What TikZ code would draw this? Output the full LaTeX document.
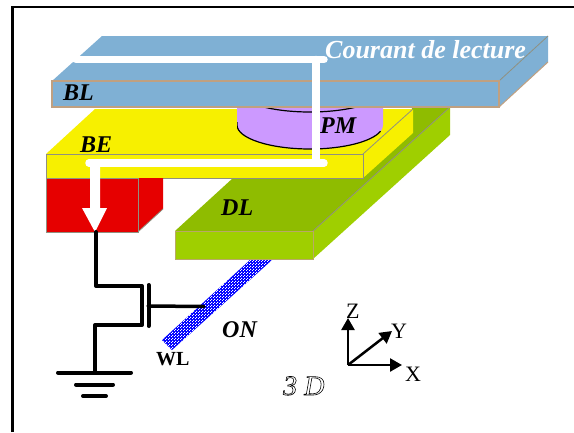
\documentclass[tikz,border=0pt]{standalone}
\usepackage{fontspec}
\setmainfont{Liberation Serif}
\usetikzlibrary{arrows.meta,patterns}
\definecolor{blcol}{HTML}{7FB0D4}
\definecolor{bledge}{HTML}{C0A080}
\definecolor{becol}{HTML}{F7F000}
\definecolor{pmcol}{HTML}{CC99FF}
\definecolor{redcol}{HTML}{E60000}
\definecolor{dltop}{HTML}{8FBC00}
\definecolor{dlfront}{HTML}{9FCF00}
\definecolor{edgecol}{HTML}{909080}
\newcommand{\outlined}[1]{\special{pdf:code q 1 Tr 0.6 w}#1\special{pdf:code Q}}
\pgfdeclarepatternformonly{wlcheck}{\pgfqpoint{0pt}{0pt}}{\pgfqpoint{3pt}{3pt}}{\pgfqpoint{3pt}{3pt}}{%
  \pgfpathrectangle{\pgfqpoint{0pt}{0pt}}{\pgfqpoint{1.2pt}{1.2pt}}%
  \pgfpathrectangle{\pgfqpoint{1.5pt}{1.5pt}}{\pgfqpoint{1.2pt}{1.2pt}}%
  \pgfusepath{fill}}
\tikzset{
  slab/.style={draw=edgecol, line width=1pt, line join=miter},
  wire/.style={line width=4pt, color=black, line cap=round, line join=round},
  current/.style={line width=7.5pt, color=white, line cap=round, line join=round},
  axis/.style={-{Triangle[length=12pt,width=13pt]}, line width=2.5pt, color=black},
  lbl/.style={font=\fontsize{24}{24}\selectfont\bfseries\itshape, inner sep=0pt, anchor=base west},
  axlbl/.style={font=\fontsize{22}{22}\selectfont, inner sep=0pt, anchor=base west}}
\begin{document}
\begin{tikzpicture}[x=1pt,y=-1pt]
    \useasboundingbox (0,0) rectangle (574,432);
    % frame
    \draw[line width=2.5pt] (12.5,432) -- (12.5,7) -- (574,7);
    % word line
    \fill[blue] (162,340) -- (172,350) -- (272,260) -- (250,260) -- cycle;
    \fill[pattern=wlcheck, pattern color=white] (162,340) -- (172,350) -- (272,260) -- (250,260) -- cycle;
    % digit line
    \filldraw[fill=dltop, draw=none] (175,231) -- (233,178) -- (363,178) -- (413,107) -- (450,107) -- (313,231) -- cycle;
    \fill[dlfront] (313,231) -- (450,107) -- (450,135) -- (313,259) -- cycle;
    \draw[edgecol, line width=.8pt] (450,107) -- (313,231);
    \filldraw[fill=dlfront, draw=bledge!80!dlfront, line width=1pt] (175,231) rectangle (313,259);
    % bottom electrode
    \fill[becol] (46,154) -- (95,109) -- (413,109) -- (413,133) -- (363,178) -- (46,178) -- cycle;
    \draw[slab] (46,154) rectangle (363,178);
    \draw[edgecol, line width=.8pt] (363,154) -- (413,109);
    % red via
    \fill[redcol] (138,178) -- (163,178) -- (163,209) -- (139,231) -- cycle;
    \draw[edgecol, line width=.8pt] (139,231) -- (163,209);
    \filldraw[fill=redcol, draw=edgecol, line width=1pt] (46,178) rectangle (138,232);
    % pillar
    \begin{scope}
      \clip (237,107) rectangle (383,160);
      \fill[pmcol] (237,107) rectangle (383,125) (237,125) arc[start angle=180, end angle=360, x radius=73, y radius=-24];
      \draw[line width=1.2pt] (237,122) -- (237,125) arc[start angle=180, end angle=345, x radius=73, y radius=-24];
      \draw[line width=1.2pt] (310,90) ellipse[x radius=73, y radius=22];
    \end{scope}
    % bit line
    \fill[blcol] (52,81) -- (102,36) -- (548,36) -- (548,62) -- (499,107) -- (52,107) -- cycle;
    \draw[edgecol, line width=.8pt] (499,81) -- (548,36);
    \draw[bledge, line width=1.2pt] (52,81) rectangle (499,107);
    \draw[bledge, line width=1pt] (499,107) -- (548,62);
    % read current
    \draw[current] (76,59.5) -- (324,59.5);
    \draw[current] (316,59.5) -- (316,163);
    \draw[current] (324,163) -- (89,163);
    \fill[white] (90,163) -- (100,163) -- (100,208) -- (107,208) -- (95,232) -- (82,208) -- (90,208) -- cycle;
    % transistor
    \draw[wire] (96,232) -- (96,286) -- (142,286) -- (142,325) -- (95,325) -- (95,372);
    \draw[wire] (148.5,285) -- (148.5,326);
    \draw[wire, line width=3.5pt] (148,306) -- (204,306.5);
    % ground
    \draw[wire] (58,372.5) -- (131,372.5);
    \draw[wire] (76,384.5) -- (113,384.5);
    \draw[wire] (83,396) -- (106,396);
    % axes
    \coordinate (orig) at (348,365);
    \draw[axis] (orig) -- (348,318);
    \draw[axis] (orig) -- (392,331);
    \draw[axis] (orig) -- (402,365);
    % labels
    \node[lbl] (bl) at (63,100) {BL};
    \node[lbl] (be) at (80,152) {BE};
    \node[lbl] (dl) at (221,215) {DL};
    \node[lbl] (pm) at (320,133) {PM};
    \node[lbl] (on) at (222,337) {ON};
    \node[lbl, text=white, font=\fontsize{26}{26}\selectfont\bfseries\itshape] (lecture) at (325,58) {Courant de lecture};
    \node[axlbl, font=\fontsize{20}{20}\selectfont\bfseries] (wl) at (156,365) {WL};
    \node[axlbl] (zl) at (346,318) {Z};
    \node[axlbl] (yl) at (391,338) {Y};
    \node[axlbl] (xl) at (405,381) {X};
    \node[axlbl, font=\fontsize{28}{28}\selectfont\itshape] (dim) at (283,395) {\outlined{3 D}};
  \end{tikzpicture}
\end{document}
